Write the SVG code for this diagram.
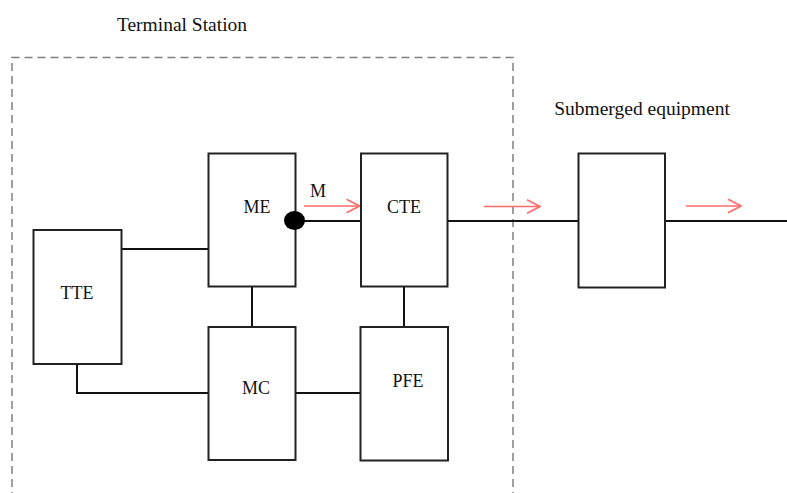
<svg xmlns="http://www.w3.org/2000/svg" width="787" height="493" viewBox="0 0 787 493">
<style>
.box{fill:#fff;stroke:#222;stroke-width:2}
.ln{fill:none;stroke:#111;stroke-width:2}
.lbl{font-family:"Liberation Serif","Times New Roman",serif;font-size:18px;fill:#111;text-anchor:middle}
.ttl{font-family:"Liberation Serif","Times New Roman",serif;font-size:19.5px;fill:#111;text-anchor:middle}
.red{fill:none;stroke:#ff6b6b;stroke-width:1.6}
</style>
<defs>
<marker id="ah" viewBox="0 0 15 16" refX="14" refY="8" markerWidth="15" markerHeight="16" markerUnits="userSpaceOnUse" orient="auto">
<path d="M1,1.3 L14,8 L1,14.7" fill="none" stroke="#ff6b6b" stroke-width="1.6"/>
</marker>
</defs>
<rect width="787" height="493" fill="#fff"/>
<g id="terminal-station">
<path d="M12,500 L12,57.5 L513,57.5 L513,500" fill="none" stroke="#808080" stroke-width="1.5" stroke-dasharray="8,5"/>
<text class="ttl" x="182" y="30.5">Terminal Station</text>
</g>
<text class="ttl" x="642" y="115">Submerged equipment</text>
<g id="connectors">
<line class="ln" x1="121" y1="249" x2="208" y2="249"/>
<line class="ln" x1="295" y1="221" x2="361" y2="221"/>
<line class="ln" x1="252" y1="287" x2="252" y2="327"/>
<line class="ln" x1="404" y1="287" x2="404" y2="327"/>
<polyline class="ln" points="77,364 77,393 208,393"/>
<line class="ln" x1="295" y1="393" x2="360" y2="393"/>
<line class="ln" x1="447" y1="221" x2="578" y2="221"/>
<line class="ln" x1="665" y1="221" x2="787" y2="221"/>
<line class="red" x1="304" y1="206" x2="359.5" y2="206" marker-end="url(#ah)"/>
<line class="red" x1="484" y1="206.5" x2="540" y2="206.5" marker-end="url(#ah)"/>
<line class="red" x1="686" y1="206" x2="741" y2="206" marker-end="url(#ah)"/>
<text class="lbl" x="318" y="197">M</text>
</g>
<g id="TTE">
<rect class="box" x="33.5" y="230" width="88" height="134"/>
<text class="lbl" x="77" y="299">TTE</text>
</g>
<g id="ME">
<rect class="box" x="208.5" y="153.5" width="87" height="133"/>
<text class="lbl" x="257" y="213">ME</text>
</g>
<g id="MC">
<rect class="box" x="208.5" y="327" width="87" height="133"/>
<text class="lbl" x="256" y="394">MC</text>
</g>
<g id="CTE">
<rect class="box" x="361" y="153.5" width="86.5" height="133"/>
<text class="lbl" x="404" y="213">CTE</text>
</g>
<g id="PFE">
<rect class="box" x="360.5" y="327" width="87.5" height="133.5"/>
<text class="lbl" x="408" y="387">PFE</text>
</g>
<g id="dot">
<ellipse cx="294.5" cy="220.5" rx="10.5" ry="9.5" fill="#000"/>
</g>
<g id="submerged">
<rect class="box" x="578.5" y="153.5" width="86.5" height="134"/>
</g>
</svg>
